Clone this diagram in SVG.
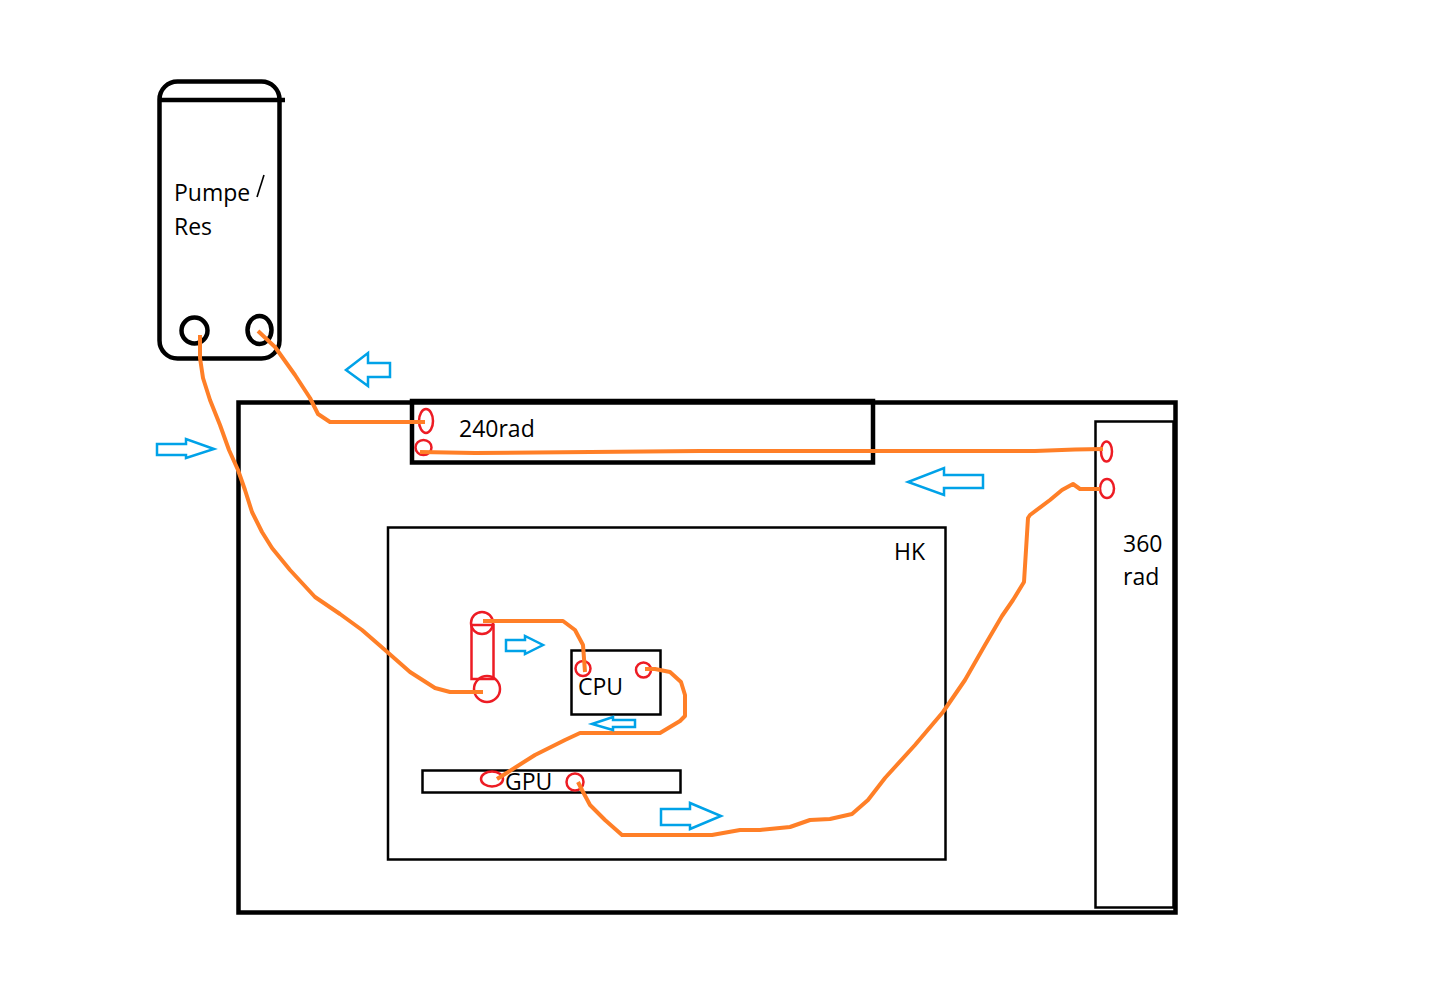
<svg xmlns="http://www.w3.org/2000/svg" width="1434" height="982" viewBox="0 0 1434 982">
<style>
.k{fill:none;stroke:#000;stroke-width:2.5}
.b{fill:none;stroke:#000;stroke-width:4.5}
.r{fill:none;stroke:#ed1c24;stroke-width:2.5}
.o{fill:none;stroke:#ff7f27;stroke-width:4;stroke-linejoin:round;stroke-linecap:butt}
.a{fill:none;stroke:#00a2e8;stroke-width:2.5}
text{font-family:"Open Sans","Noto Sans","DejaVu Sans",sans-serif;font-size:23px;fill:#000}
</style>
<rect width="1434" height="982" fill="#fff"/>
<g id="case"><rect class="b" x="238.500" y="402.500" width="937" height="510"/></g>
<g id="pump">
<rect class="b" x="159.500" y="81.500" width="120" height="277" rx="18"/>
<path class="b" d="M160 100H285"/>
<circle class="b" cx="194.500" cy="330.500" r="13"/>
<ellipse class="b" cx="259.500" cy="330" rx="12" ry="14"/>
<text x="174" y="201">Pumpe</text><path d="M264 175L257 197" stroke="#000" stroke-width="1.600" fill="none"/>
<text x="174" y="235">Res</text>
</g>
<g id="rad240"><rect class="b" x="412" y="401" width="461" height="61.500"/><text x="459" y="437">240rad</text>
<ellipse class="r" cx="426" cy="421" rx="7" ry="12"/><ellipse class="r" cx="423.500" cy="447.500" rx="8" ry="7.500"/></g>
<g id="rad360"><rect class="k" x="1095.500" y="421.500" width="78" height="486"/><text x="1123" y="552">360</text><text x="1123" y="585">rad</text>
<ellipse class="r" cx="1106.500" cy="451.500" rx="5.500" ry="10"/><ellipse class="r" cx="1107" cy="488.500" rx="7" ry="9.500"/></g>
<g id="hk"><rect class="k" x="388" y="527.500" width="557.500" height="332"/><text x="894" y="560">HK</text></g>
<g id="cpu"><rect class="k" x="571.500" y="650.500" width="89" height="64"/><text x="578" y="695">CPU</text>
<circle class="r" cx="583" cy="668.500" r="7.500"/><circle class="r" cx="643.500" cy="670" r="7.500"/></g>
<g id="gpu"><rect class="k" x="422.500" y="770.500" width="258" height="22"/><text x="505" y="790">GPU</text>
<ellipse class="r" cx="492" cy="779" rx="11" ry="7.500"/><circle class="r" cx="575" cy="782" r="8.500"/></g>
<g id="pump2"><rect class="r" x="471.500" y="625" width="22" height="54"/><circle class="r" cx="482" cy="623" r="11"/><circle class="r" cx="487" cy="689" r="13"/></g>
<g id="connectors">
<path class="o" d="M200 335L200 358L203 378L210 400L220 425L229 450L238 470L245 490L252 512L262 532L272 548L290 570L315 597L340 614L362 630L385 650L410 672L435 688L450 692L483 692"/>
<path class="o" d="M258 331L275 347L295 375L310 398L318 414L330 422L425 422"/>
<path class="o" d="M420 452L475 453L700 451L1035 451L1075 449.500L1103 449"/>
<path class="o" d="M1100 489L1080 489L1073 484L1062 490L1050 500L1030 515L1028 518L1026 550L1024 582L1013 600L1002 616L985 645L965 680L943 712L915 745L885 778L868 800L852 814L830 819L810 820L790 827L760 830L740 830L712 835L622 835L605 820L590 805L582 790L578 782"/>
<path class="o" d="M497 779L535 755L565 740L580 733L660 733L680 721L685 716L685 695L681 682L670 672L655 669L645 669"/>
<path class="o" d="M483 621L563 621L575 630L583 645L585 672"/>
</g>
<g id="arrows">
<path class="a" d="M157 444H186V439L214 449L186 458V455H157Z"/>
<path class="a" d="M390 363H368V353L346 370L368 386V377H390Z"/>
<path class="a" d="M983 475H944V468L908 482L944 495V488H983Z"/>
<path class="a" d="M506 640H525V636L543 645L525 654V651H506Z"/>
<path class="a" d="M635 720H613V717L592 724L613 730V727H635Z"/>
<path class="a" d="M661 809H690V803L721 816L690 829V825H661Z"/>
</g>
</svg>
